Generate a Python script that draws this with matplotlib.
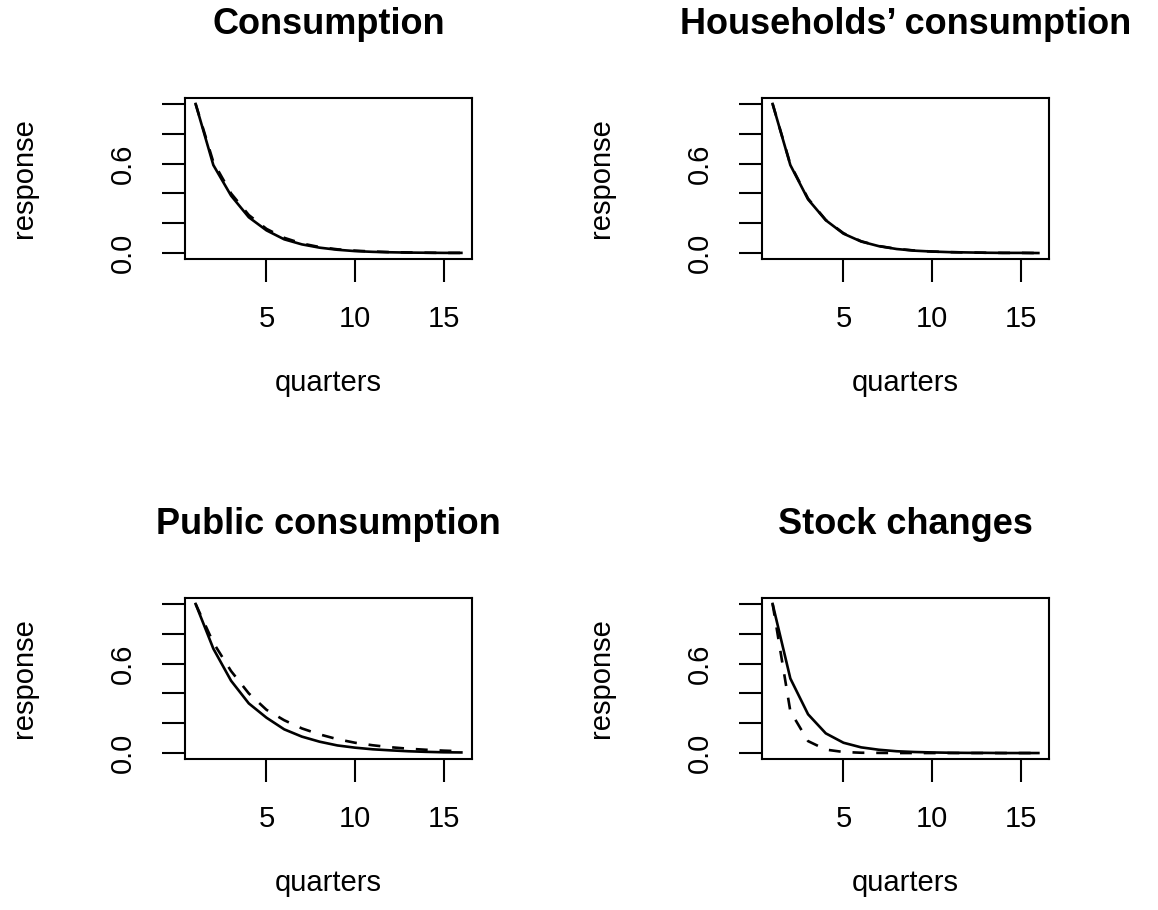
import numpy as np
import matplotlib
matplotlib.use("Agg")
import matplotlib.pyplot as plt

plt.rcParams['font.family'] = ['Liberation Sans', 'DejaVu Sans']

# data
quarters = [1, 2, 3, 4, 5, 6, 7, 8, 9, 10, 11, 12, 13, 14, 15, 16]

cons_solid = [1.0, 0.59, 0.385, 0.24, 0.152, 0.092, 0.058, 0.036, 0.022, 0.013, 0.008, 0.005, 0.003, 0.002, 0.001, 0.001]
cons_dashed = [1.0, 0.61, 0.40, 0.255, 0.162, 0.102, 0.064, 0.040, 0.025, 0.016, 0.010, 0.006, 0.004, 0.002, 0.001, 0.001]

hh_solid = [1.0, 0.59, 0.36, 0.22, 0.13, 0.077, 0.046, 0.027, 0.016, 0.010, 0.006, 0.004, 0.002, 0.001, 0.001, 0.0]
hh_dashed = [1.0, 0.595, 0.365, 0.222, 0.133, 0.079, 0.047, 0.028, 0.017, 0.010, 0.006, 0.004, 0.002, 0.001, 0.001, 0.0]

pub_solid = [1.0, 0.70, 0.485, 0.333, 0.237, 0.159, 0.110, 0.076, 0.051, 0.036, 0.025, 0.018, 0.012, 0.008, 0.005, 0.004]
pub_dashed = [1.0, 0.74, 0.55, 0.40, 0.29, 0.22, 0.165, 0.125, 0.093, 0.069, 0.052, 0.039, 0.029, 0.022, 0.016, 0.012]

stock_solid = [1.0, 0.50, 0.26, 0.132, 0.069, 0.038, 0.022, 0.012, 0.007, 0.004, 0.002, 0.001, 0.001, 0.0, 0.0, 0.0]
stock_dashed = [1.0, 0.28, 0.08, 0.023, 0.007, 0.002, 0.001, 0.0, 0.0, 0.0, 0.0, 0.0, 0.0, 0.0, 0.0, 0.0]

titles = ["Consumption", "Households\u2019 consumption", "Public consumption", "Stock changes"]
solids = [cons_solid, hh_solid, pub_solid, stock_solid]
dasheds = [cons_dashed, hh_dashed, pub_dashed, stock_dashed]

x_ticks = [5, 10, 15]
y_ticks = [0.0, 0.2, 0.4, 0.6, 0.8, 1.0]
y_tick_labels = ["0.0", "", "", "0.6", "", ""]

W, H = 1158, 910
fig = plt.figure(figsize=(W / 100, H / 100), dpi=100)

# panel boxes in pixels: (left, top)
boxes = [(185, 98), (762, 98), (185, 598), (762, 598)]
bw, bh = 287, 161

for i in range(4):
    left, top = boxes[i]
    ax = fig.add_axes([left / W, 1 - (top + bh) / H, bw / W, bh / H])
    ax.plot(quarters, solids[i], color='black', lw=1.9)
    ax.plot(quarters, dasheds[i], color='black', lw=1.9, dashes=(4.5, 4.5))
    ax.set_xlim(0.4, 16.6)
    ax.set_ylim(-0.04, 1.04)
    ax.set_xticks(x_ticks)
    ax.set_xticklabels([str(t) for t in x_ticks])
    ax.set_yticks(y_ticks)
    ax.set_yticklabels(y_tick_labels, rotation=90, va='center')
    ax.tick_params(direction='out', length=16.5, width=1.5, labelsize=21, color='black')
    ax.tick_params(axis='x', pad=16.5)
    ax.tick_params(axis='y', pad=18.5)
    for s in ax.spines.values():
        s.set_linewidth(1.5)

    cx = left + bw / 2
    fig.text(cx / W, 1 - (top - 64) / H, titles[i], ha='center', va='baseline',
             fontsize=26, fontweight='bold')
    fig.text(cx / W, 1 - (top + bh + 132) / H, "quarters", ha='center', va='baseline',
             fontsize=21)
    fig.text((left - 147) / W, 1 - (top + bh / 2) / H, "response", ha='right', va='center',
             rotation=90, fontsize=21)

fig.savefig("out.png", dpi=100)
